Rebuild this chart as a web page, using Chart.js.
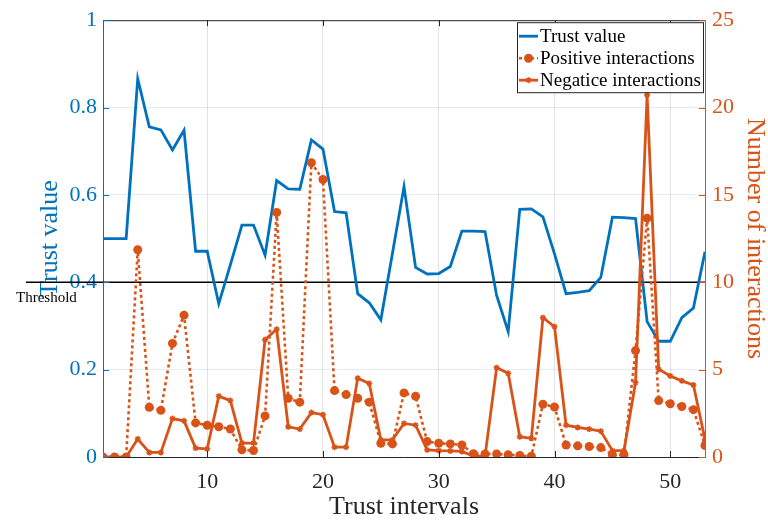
<!DOCTYPE html>
<html><head><meta charset="utf-8">
<script src="https://cdn.jsdelivr.net/npm/chart.js@4/dist/chart.umd.min.js"></script>
<style>html,body{margin:0;padding:0;background:#fff}#wrap{width:768px;height:526px;position:relative}</style>
</head><body><div id="wrap"><canvas id="c"></canvas></div>
<script>
const INTERVALS = [1,2,3,4,5,6,7,8,9,10,11,12,13,14,15,16,17,18,19,20,21,22,23,24,25,26,27,28,29,30,31,32,33,34,35,36,37,38,39,40,41,42,43,44,45,46,47,48,49,50,51,52,53];
const TRUST = [0.50,0.50,0.50,0.866,0.756,0.749,0.703,0.748,0.471,0.471,0.351,0.44,0.531,0.531,0.462,0.633,0.614,0.613,0.726,0.705,0.562,0.559,0.374,0.353,0.314,0.466,0.619,0.434,0.419,0.42,0.436,0.517,0.517,0.516,0.37,0.287,0.567,0.568,0.55,0.465,0.374,0.377,0.381,0.411,0.549,0.548,0.546,0.31,0.265,0.265,0.319,0.341,0.47];
const POSITIVE = [0,0,0,11.86,2.85,2.67,6.5,8.12,1.95,1.82,1.73,1.6,0.41,0.37,2.35,14.0,3.36,3.14,16.84,15.88,3.8,3.57,3.36,3.14,0.79,0.75,3.67,3.48,0.88,0.79,0.75,0.69,0.19,0.17,0.17,0.13,0.09,0.04,3.02,2.86,0.69,0.64,0.6,0.54,0.13,0.13,6.09,13.67,3.23,3.05,2.89,2.71,0.66];
const NEGATIVE = [0,0,0,1.03,0.26,0.26,2.2,2.07,0.51,0.47,3.48,3.23,0.79,0.79,6.71,7.31,1.73,1.6,2.54,2.42,0.56,0.56,4.51,4.21,0.98,0.98,1.92,1.82,0.41,0.37,0.35,0.32,0.05,0.05,5.11,4.79,1.16,1.07,7.97,7.46,1.82,1.69,1.6,1.48,0.36,0.36,4.26,20.72,5.02,4.64,4.36,4.12,1.0];
const X_TICKS = [10,20,30,40,50];
const THRESHOLD = 0.4;
const THRESHOLD_LABEL = 'Threshold';
const SERIES_LABELS = ['Trust value','Positive interactions','Negatice interactions'];

const BLUE = '#0072BD', ORANGE = '#D95319', DARK = '#262626';
const SERIF = '"Liberation Serif", "Times New Roman", serif';

const pts = arr => INTERVALS.map((x,i)=>({x, y: arr[i]}));

function drawStar(ctx, cx, cy, r){
  ctx.beginPath();
  for(let k=0;k<4;k++){
    const a = k*Math.PI/4;
    ctx.moveTo(cx - r*Math.cos(a), cy - r*Math.sin(a));
    ctx.lineTo(cx + r*Math.cos(a), cy + r*Math.sin(a));
  }
  ctx.stroke();
}

const matlabFrame = {
  id: 'matlabFrame',
  beforeDatasetsDraw(chart){
    const {ctx, chartArea:a, scales:{y}} = chart;
    const ty = y.getPixelForValue(THRESHOLD);
    ctx.save();
    ctx.strokeStyle = '#000'; ctx.lineWidth = 1.5;
    ctx.beginPath(); ctx.moveTo(a.left-77, ty); ctx.lineTo(a.right, ty); ctx.stroke();
    ctx.font = '15px ' + SERIF; ctx.fillStyle = '#000';
    ctx.textBaseline = 'middle'; ctx.textAlign = 'left';
    ctx.fillText(THRESHOLD_LABEL, a.left-87, ty+16);
    ctx.restore();
  },
  afterDatasetsDraw(chart){
    const {ctx, chartArea:a, scales:{x,y,y1}} = chart;
    const L = 6;
    ctx.save();
    ctx.lineWidth = 1;
    ctx.strokeStyle = DARK;
    ctx.beginPath(); ctx.moveTo(a.left, a.top+0.5); ctx.lineTo(a.right, a.top+0.5); ctx.stroke();
    x.ticks.forEach(t=>{
      const px = Math.round(x.getPixelForValue(t.value))+0.5;
      ctx.beginPath();
      ctx.moveTo(px, a.bottom); ctx.lineTo(px, a.bottom-L);
      ctx.moveTo(px, a.top); ctx.lineTo(px, a.top+L);
      ctx.stroke();
    });
    ctx.strokeStyle = BLUE;
    y.ticks.forEach(t=>{
      const py = Math.round(y.getPixelForValue(t.value))+0.5;
      ctx.beginPath(); ctx.moveTo(a.left, py); ctx.lineTo(a.left+L, py); ctx.stroke();
    });
    ctx.strokeStyle = ORANGE;
    y1.ticks.forEach(t=>{
      const py = Math.round(y1.getPixelForValue(t.value))+0.5;
      ctx.beginPath(); ctx.moveTo(a.right, py); ctx.lineTo(a.right-L, py); ctx.stroke();
    });
    ctx.restore();
  },
  afterDraw(chart){
    const {ctx, chartArea:a} = chart;
    const w = 186, h = 70;
    const bx = a.right - w - 2, by = a.top + 2;
    ctx.save();
    ctx.fillStyle = '#fff'; ctx.fillRect(bx, by, w, h);
    ctx.strokeStyle = DARK; ctx.lineWidth = 1;
    ctx.strokeRect(bx+0.5, by+0.5, w, h);
    ctx.font = '19px ' + SERIF; ctx.fillStyle = '#000';
    ctx.textBaseline = 'middle'; ctx.textAlign = 'left';
    const rows = [14, 36, 58];
    const ds = chart.data.datasets;
    for(let i=0;i<3;i++){
      const cy = by + rows[i];
      const d = ds[i];
      ctx.save();
      ctx.strokeStyle = d.borderColor; ctx.lineWidth = d.borderWidth;
      ctx.setLineDash(d.borderDash || []);
      ctx.beginPath(); ctx.moveTo(bx+2, cy); ctx.lineTo(bx+21, cy); ctx.stroke();
      ctx.setLineDash([]);
      if(i===1){ ctx.fillStyle = ORANGE; ctx.beginPath(); ctx.arc(bx+11.5, cy, 4.5, 0, Math.PI*2); ctx.fill(); }
      if(i===2){ ctx.lineWidth = 1.5; drawStar(ctx, bx+11.5, cy, 3); }
      ctx.restore();
      ctx.fillText(d.label, bx+23, cy+1);
    }
    ctx.restore();
  }
};

new Chart(document.getElementById('c'), {
  type: 'line',
  data: {
    datasets: [
      { label: SERIES_LABELS[0], data: pts(TRUST), yAxisID: 'y', borderColor: BLUE, borderWidth: 2.8,
        pointRadius: 0, tension: 0, order: 3 },
      { label: SERIES_LABELS[1], data: pts(POSITIVE), yAxisID: 'y1', borderColor: ORANGE, borderWidth: 2.6,
        borderDash: [3,3], pointRadius: 4.5, pointBackgroundColor: ORANGE, pointBorderWidth: 0, tension: 0, order: 2 },
      { label: SERIES_LABELS[2], data: pts(NEGATIVE), yAxisID: 'y1', borderColor: ORANGE, borderWidth: 2.8,
        pointStyle: 'star', pointRadius: 3, pointBorderColor: ORANGE, pointBackgroundColor: ORANGE, pointBorderWidth: 1.5, tension: 0, order: 1 }
    ]
  },
  options: {
    responsive: true, maintainAspectRatio: false, animation: false,
    layout: { padding: { top: 14, left: 0, right: 0, bottom: 0 } },
    plugins: { legend: { display: false }, tooltip: { enabled: false } },
    scales: {
      x: {
        type: 'linear', min: 1, max: 53,
        afterBuildTicks: s => { s.ticks = X_TICKS.map(v => ({ value: v })); },
        grid: { color: 'rgba(38,38,38,0.13)', drawTicks: false },
        border: { color: DARK, width: 1 },
        ticks: { color: DARK, font: { family: SERIF, size: 22 }, padding: 12, maxRotation: 0 },
        title: { display: true, text: 'Trust intervals', color: DARK, font: { family: SERIF, size: 26, lineHeight: 1 }, padding: { top: 0, bottom: 6 } },
        afterFit: s => { s.height = 69; }
      },
      y: {
        position: 'left', min: 0, max: 1,
        ticks: { stepSize: 0.2, color: BLUE, font: { family: SERIF, size: 22 }, padding: 6,
                 callback: v => String(Math.round(v * 10) / 10) },
        grid: { color: 'rgba(0,114,189,0.12)', drawTicks: false },
        border: { color: BLUE, width: 1 },
        title: { display: true, text: 'Trust value', color: BLUE, font: { family: SERIF, size: 26, lineHeight: 1 }, padding: { top: 37, bottom: 0 } },
        afterFit: s => { s.width = 103; }
      },
      y1: {
        position: 'right', min: 0, max: 25,
        ticks: { stepSize: 5, color: ORANGE, font: { family: SERIF, size: 22 }, padding: 7 },
        grid: { display: false, drawTicks: false },
        border: { color: ORANGE, width: 1 },
        title: { display: true, text: 'Number of interactions', color: ORANGE, font: { family: SERIF, size: 26, lineHeight: 1 }, padding: { top: 0, bottom: 0 } },
        afterFit: s => { s.width = 63; }
      }
    }
  },
  plugins: [matlabFrame]
});
</script>
</body></html>
